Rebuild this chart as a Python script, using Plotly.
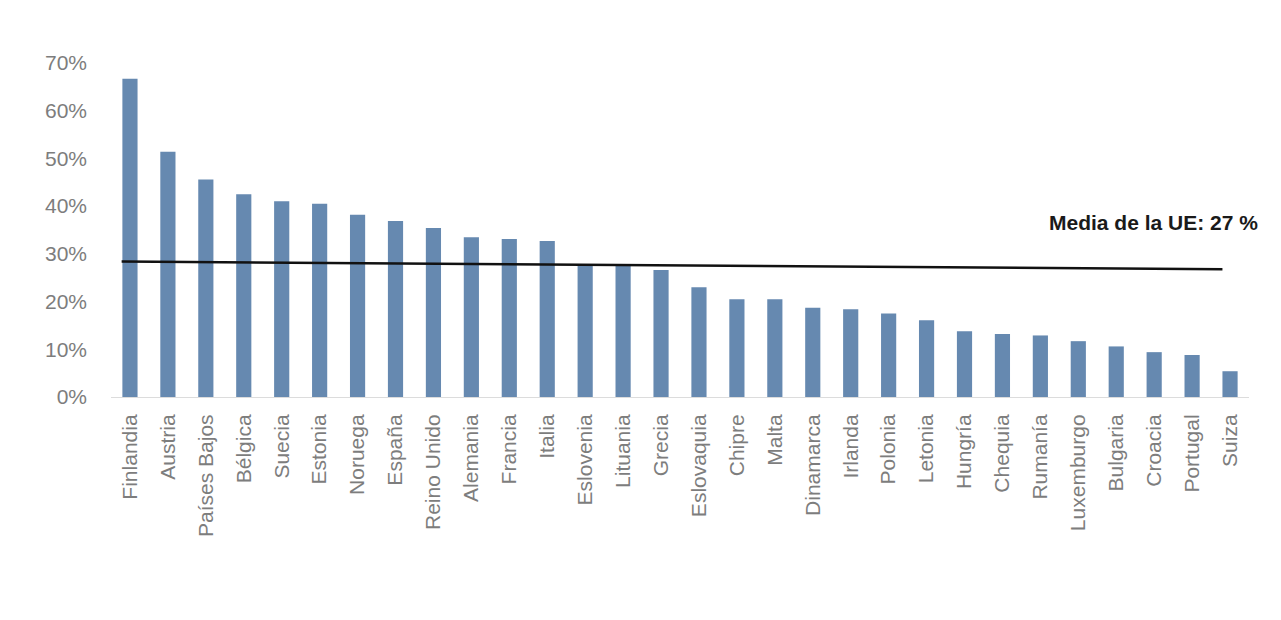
import plotly.graph_objects as go

# Share per country (%)
countries = ['Finlandia', 'Austria', 'Países Bajos', 'Bélgica', 'Suecia', 'Estonia',
             'Noruega', 'España', 'Reino Unido', 'Alemania', 'Francia', 'Italia',
             'Eslovenia', 'Lituania', 'Grecia', 'Eslovaquia', 'Chipre', 'Malta',
             'Dinamarca', 'Irlanda', 'Polonia', 'Letonia', 'Hungría', 'Chequia',
             'Rumanía', 'Luxemburgo', 'Bulgaria', 'Croacia', 'Portugal', 'Suiza']
values = [66.7, 51.4, 45.6, 42.5, 41.0, 40.5,
          38.2, 36.9, 35.4, 33.5, 33.1, 32.7,
          27.7, 27.5, 26.6, 23.0, 20.5, 20.5,
          18.7, 18.4, 17.5, 16.1, 13.8, 13.2,
          12.9, 11.7, 10.6, 9.4, 8.8, 5.4]

# EU average line (slightly tilted in the original), in category index units
mean_x = [-0.22, 28.8]
mean_y = [28.4, 26.8]
mean_label = 'Media de la UE: 27 %'

y_ticks = [0, 10, 20, 30, 40, 50, 60, 70]
y_ticktext = [f'{t}%' for t in y_ticks]

FONT = 'Liberation Sans, Arial, sans-serif'

fig = go.Figure()
fig.add_trace(go.Bar(
    x=list(range(len(countries))),
    y=values,
    marker=dict(color='#6689b0', line=dict(width=0)),
    width=0.40,
))
fig.add_trace(go.Scatter(
    x=mean_x, y=mean_y, mode='lines',
    line=dict(color='#111111', width=2.5),
))
# label sits a bit right of the plot area, as in the original
fig.add_annotation(
    x=1.0, xref='paper', xanchor='right', xshift=11, y=36.5, yref='y',
    text=f'<b>{mean_label}</b>', showarrow=False,
    font=dict(family=FONT, size=21, color='#1a1a1a'),
)

fig.update_xaxes(
    range=[-0.5, len(countries) - 0.5],
    tickmode='array', tickvals=list(range(len(countries))), ticktext=countries,
    tickangle=-90, ticks='', showgrid=False, zeroline=False,
    showline=True, linecolor='#dcdcdc', linewidth=1,
    ticklabelstandoff=8,
    tickfont=dict(family=FONT, size=21, color='#7d7d7d'),
)
fig.update_yaxes(
    range=[0, 70], tickvals=y_ticks, ticktext=y_ticktext,
    showgrid=False, zeroline=False, showline=False, ticks='',
    ticklabelstandoff=23,
    tickfont=dict(family=FONT, size=21, color='#7d7d7d'),
)
# the page adds an 8px body margin, so margins are shifted by that much
fig.update_layout(
    width=1281, height=620,
    margin=dict(l=103, r=40, t=55, b=231),
    plot_bgcolor='white', paper_bgcolor='white',
    showlegend=False,
)
fig.write_html('out.html')
